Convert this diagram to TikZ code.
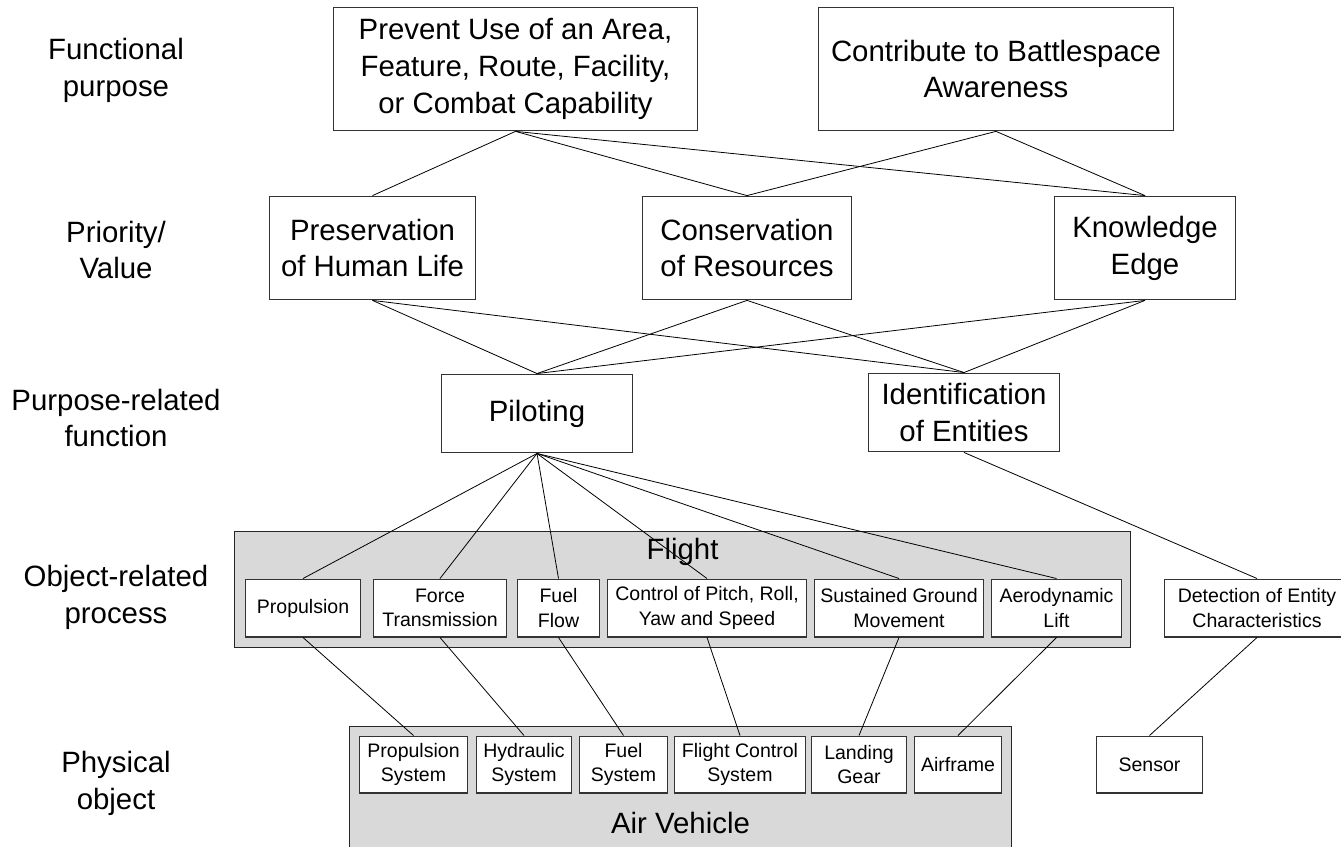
\documentclass[tikz,border=0pt]{standalone}
\usepackage{fontspec}
\setmainfont{Liberation Sans}
\definecolor{groupgray}{HTML}{D9D9D9}
\begin{document}
\begin{tikzpicture}[x=1bp,y=-1bp,
  big/.style={font=\fontsize{29.5}{37}\selectfont},
  small/.style={font=\fontsize{19.6}{24.5}\selectfont},
  box/.style={draw=black!80, line width=1.2bp, fill=white, align=center, inner sep=0pt},
  group/.style={draw=black!85, line width=1.2bp, fill=groupgray, inner sep=0pt},
  layer/.style={big, align=center, inner sep=0pt},
  link/.style={draw=black, line width=0.8bp}]

\useasboundingbox (0,0) rectangle (1341,846);
\clip (0,0) rectangle (1341,846);

% level captions
\node[layer] (capFP) at (116,70)  {Functional\\purpose};
\node[layer] (capPV) at (116,250) {Priority/\\Value};
\node[layer] (capPF) at (116,418) {Purpose-related\\function};
\node[layer] (capOP) at (116,597) {Object-related\\process};
\node[layer] (capPO) at (116,783) {Physical\\object};

% grouping containers
\node[group, minimum width=899, minimum height=117] (flight) at (682.5,589.5) {};
\node[big, inner sep=0pt] (flightlbl) at (682.5,552) {Flight};
\node[group, minimum width=665, minimum height=160] (vehicle) at (680.5,806) {};
\node[big, inner sep=0pt] (vehiclelbl) at (680.5,823) {Air Vehicle};

% functional purpose
\node[box, big, minimum width=365, minimum height=124] (prevent) at (515.5,69)
  {Prevent Use of an Area,\\Feature, Route, Facility,\\or Combat Capability};
\node[box, big, minimum width=356, minimum height=124] (contrib) at (996,69)
  {Contribute to Battlespace\\Awareness};

% priority / value
\node[box, big, minimum width=207, minimum height=104] (pres) at (372.5,248) {Preservation\\of Human Life};
\node[box, big, minimum width=210, minimum height=104] (cons) at (747,248) {Conservation\\of Resources};
\node[box, big, minimum width=182, minimum height=104] (know) at (1145,248) {Knowledge\\Edge};

% purpose-related function
\node[box, big, minimum width=192, minimum height=79] (pilot) at (537,413.5) {Piloting};
\node[box, big, minimum width=192, minimum height=79] (ident) at (964,412.5) {Identification\\of Entities};

% object-related process
\node[box, small, minimum width=116, minimum height=58] (prop)   at (303,608)    {Propulsion};
\node[box, small, minimum width=134, minimum height=58] (force)  at (440,608)    {Force\\Transmission};
\node[box, small, minimum width=83,  minimum height=58] (fflow)  at (558.5,608)  {Fuel\\Flow};
\node[box, small, minimum width=200, minimum height=58] (ctrl)   at (707,608)    {Control of Pitch, Roll,\\Yaw and Speed};
\node[box, small, minimum width=170, minimum height=58] (sgm)    at (899,608)    {Sustained Ground\\Movement};
\node[box, small, minimum width=131, minimum height=58] (aero)   at (1056.5,608) {Aerodynamic\\Lift};
\node[box, small, minimum width=186, minimum height=58] (detect) at (1257,608)   {Detection of Entity\\Characteristics};

% physical object
\node[box, small, minimum width=109, minimum height=57] (psys)     at (413.5,764.5) {Propulsion\\System};
\node[box, small, minimum width=96,  minimum height=57] (hyd)      at (524,764.5)   {Hydraulic\\System};
\node[box, small, minimum width=89,  minimum height=57] (fsys)     at (623.5,764.5) {Fuel\\System};
\node[box, small, minimum width=132, minimum height=57] (fcs)      at (740,764.5)   {Flight Control\\System};
\node[box, small, minimum width=96,  minimum height=57] (gear)     at (859,764.5)   {Landing\\Gear};
\node[box, small, minimum width=88,  minimum height=57] (airframe) at (958,764.5)   {Airframe};
\node[box, small, minimum width=107, minimum height=57] (sensor)   at (1149.5,764.5) {Sensor};

% means-ends links
\foreach \a/\b in {prevent/pres, prevent/cons, prevent/know, contrib/cons, contrib/know,
                   pres/pilot, pres/ident, cons/pilot, cons/ident, know/pilot, know/ident,
                   pilot/prop, pilot/force, pilot/fflow, pilot/ctrl, pilot/sgm, pilot/aero,
                   ident/detect,
                   prop/psys, force/hyd, fflow/fsys, ctrl/fcs, sgm/gear, aero/airframe,
                   detect/sensor}
  \draw[link] (\a.south) -- (\b.north);
\end{tikzpicture}
\end{document}
